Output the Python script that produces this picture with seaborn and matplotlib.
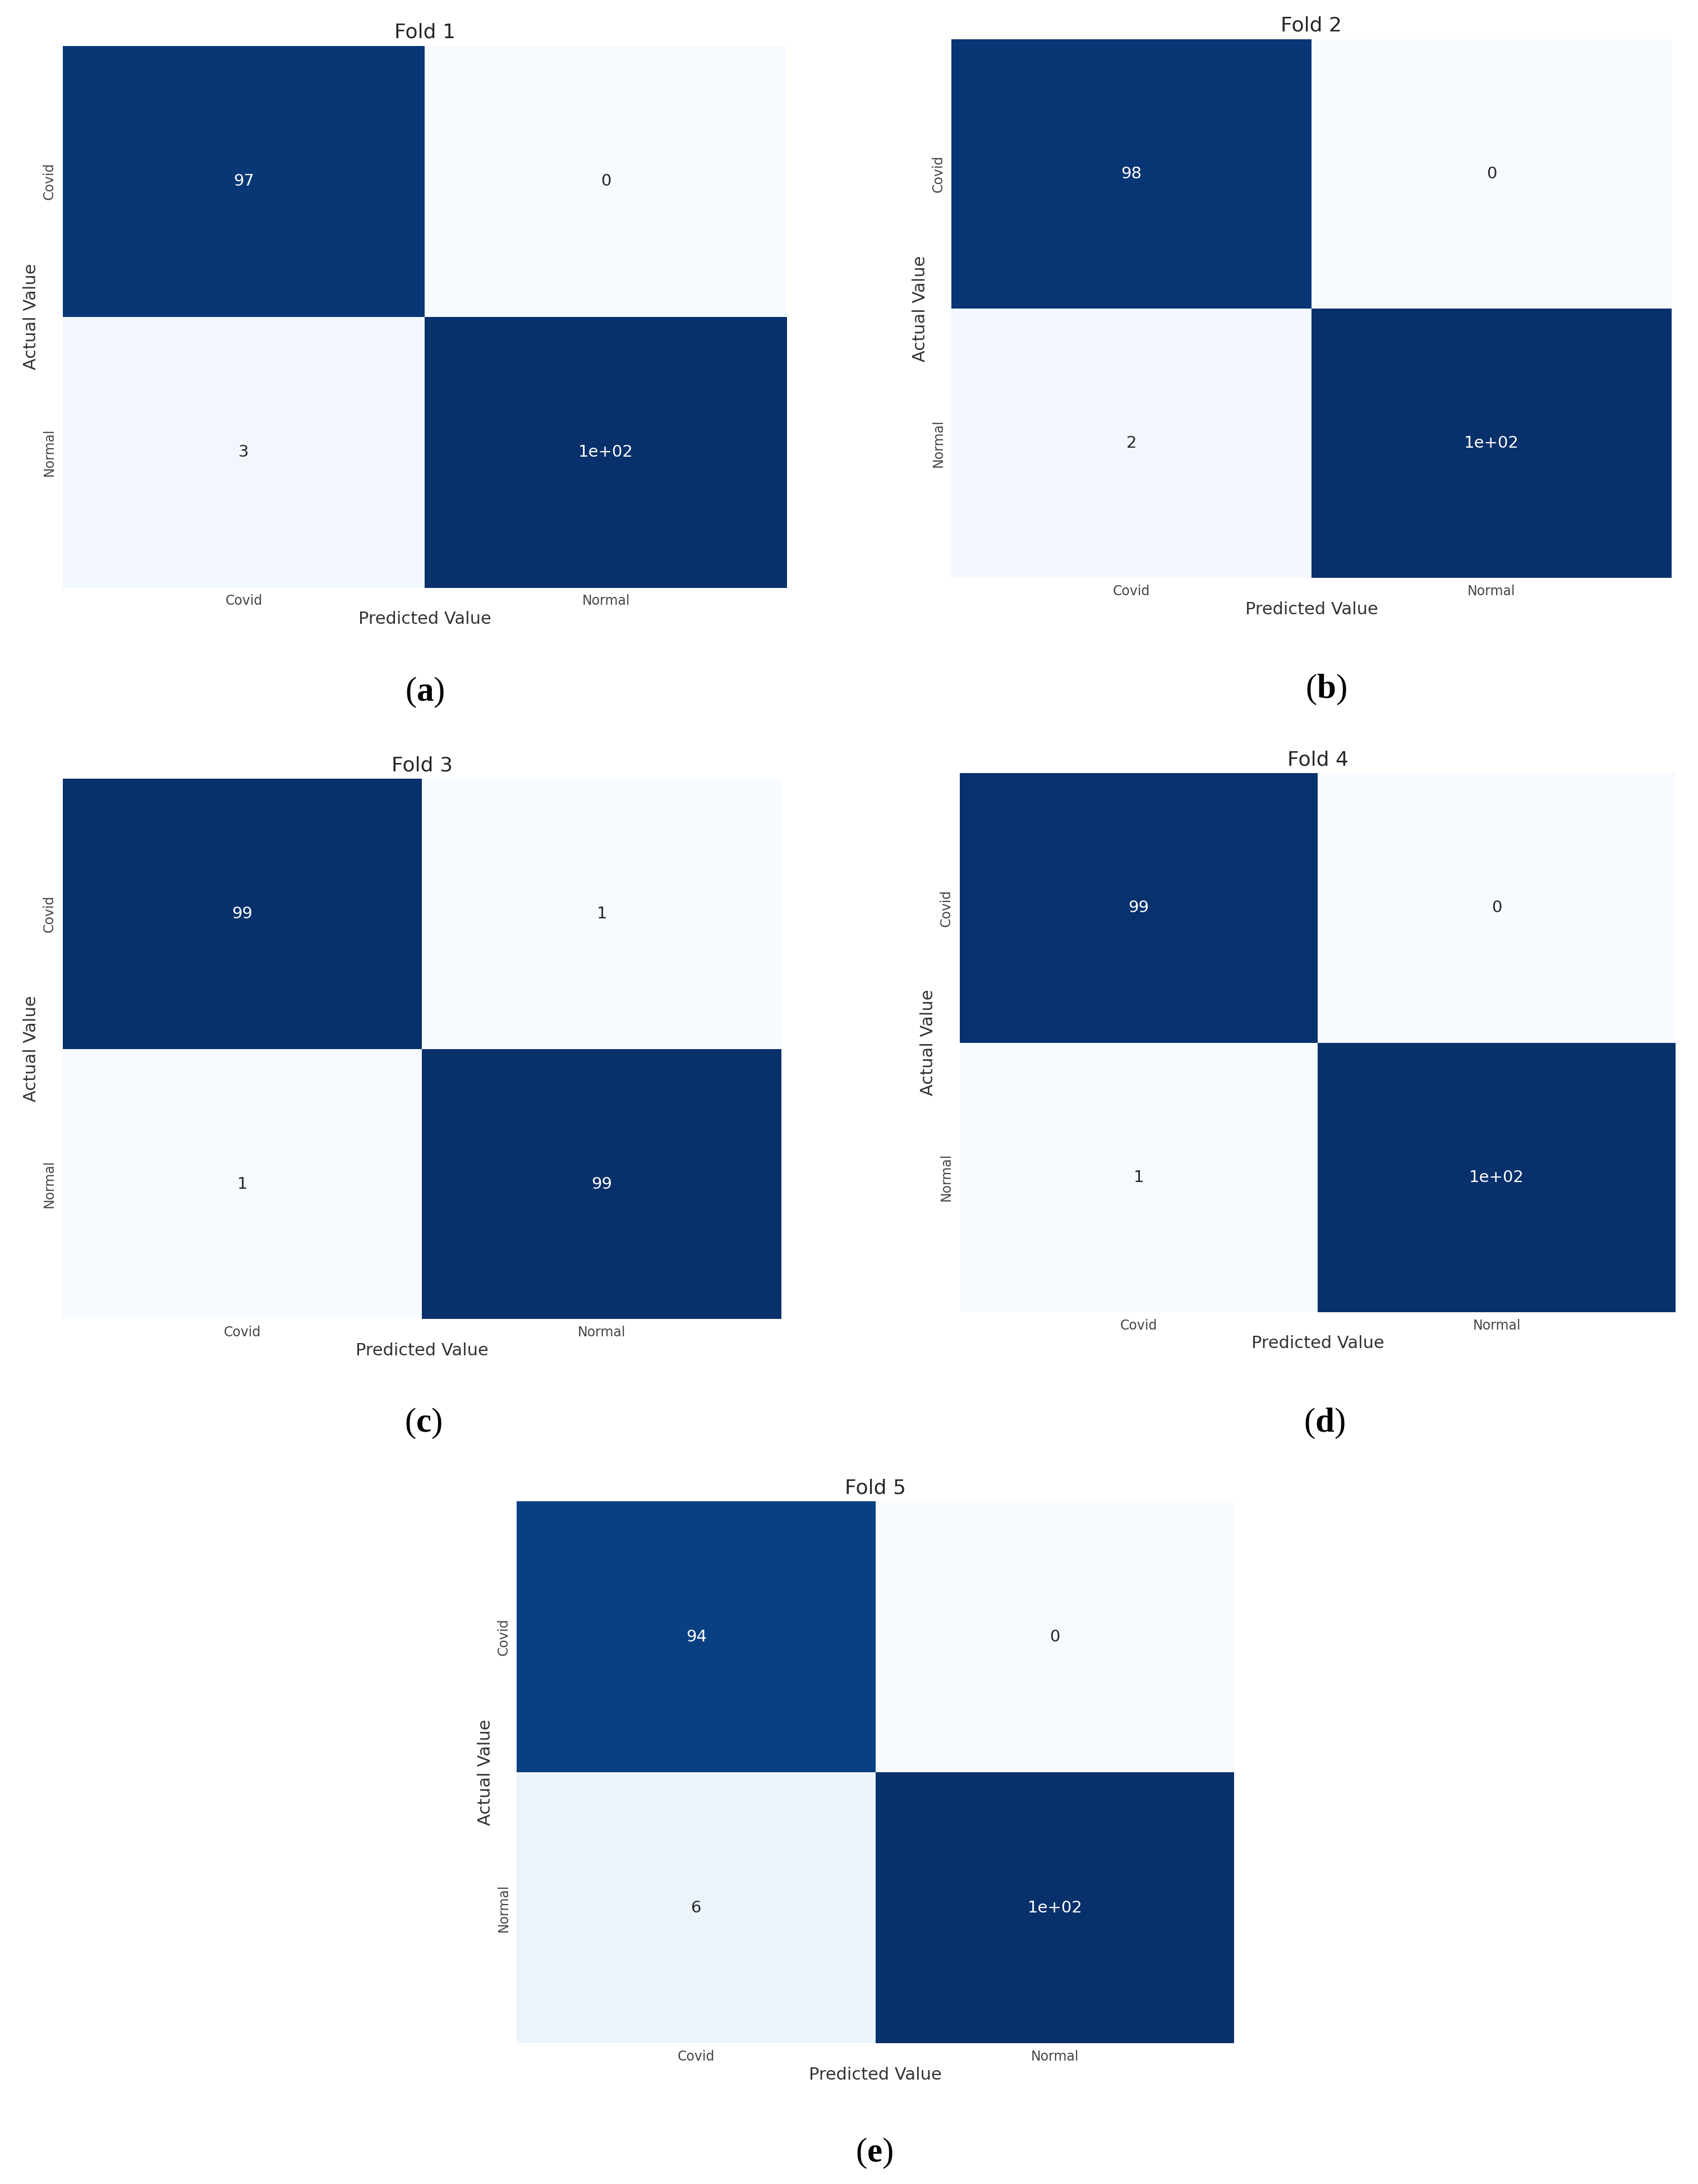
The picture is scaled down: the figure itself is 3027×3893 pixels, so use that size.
import numpy as np
import matplotlib
matplotlib.use('Agg')
import matplotlib.pyplot as plt
import seaborn as sns

# confusion matrices for each fold (rows = actual, cols = predicted)
classes = ['Covid', 'Normal']
fold1 = [[97, 0], [3, 100]]
fold2 = [[98, 0], [2, 100]]
fold3 = [[99, 1], [1, 99]]
fold4 = [[99, 0], [1, 100]]
fold5 = [[94, 0], [6, 100]]
titles = ['Fold 1', 'Fold 2', 'Fold 3', 'Fold 4', 'Fold 5']
letters = ['a', 'b', 'c', 'd', 'e']

sns.set_style('white')
plt.rcParams['font.family'] = ['DejaVu Sans']
plt.rcParams['mathtext.fontset'] = 'custom'
plt.rcParams['mathtext.rm'] = 'Liberation Serif'
plt.rcParams['mathtext.bf'] = 'Liberation Serif:bold'

fig = plt.figure(figsize=(30.27, 38.93), dpi=100)

# axes boxes [left, bottom, width, height] in figure fraction
boxes = [
    [0.0369, 0.7309, 0.4266, 0.2481],
    [0.5603, 0.7353, 0.4241, 0.2468],
    [0.0369, 0.3960, 0.4233, 0.2474],
    [0.5652, 0.3992, 0.4217, 0.2468],
    [0.3044, 0.0644, 0.4225, 0.2481],
]
label_pos = [(0.2502, 0.683), (0.781, 0.6843), (0.2494, 0.3482), (0.780, 0.3482), (0.515, 0.014)]

for data, title, box, letter, pos in zip([fold1, fold2, fold3, fold4, fold5],
                                         titles, boxes, letters, label_pos):
    ax = fig.add_axes(box)
    sns.heatmap(np.array(data), annot=True, cmap='Blues', cbar=False,
                xticklabels=classes, yticklabels=classes, ax=ax,
                annot_kws={'fontsize': 21})
    ax.set_title(title, fontsize=26, pad=10)
    ax.set_xlabel('Predicted Value', fontsize=22, color='#333333')
    ax.set_ylabel('Actual Value', fontsize=22, color='#333333')
    ax.tick_params(axis='both', labelsize=17, length=5, width=1, colors='#444444')
    plt.setp(ax.get_yticklabels(), rotation=90, va='center')
    plt.setp(ax.get_xticklabels(), rotation=0)
    # subfigure label, bold letter inside regular parens
    fig.text(pos[0], pos[1], '(' + r'$\mathbf{' + letter + '}$' + ')',
             fontsize=44, family='Liberation Serif', color='black',
             ha='center', va='center')

fig.savefig('out.png', dpi=100)
